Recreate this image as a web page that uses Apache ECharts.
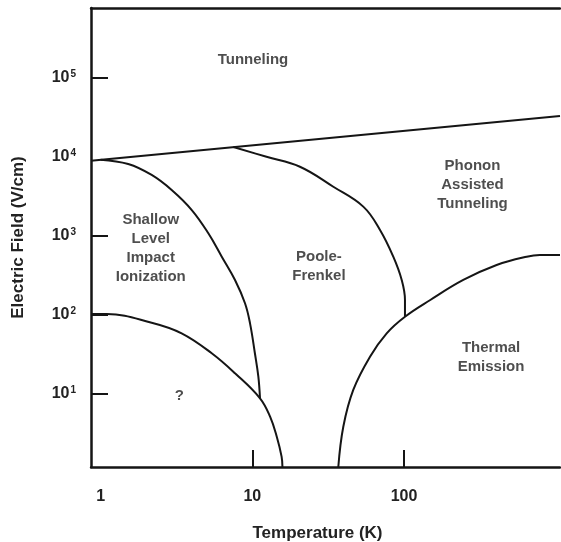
<!DOCTYPE html>
<html>
<head>
<meta charset="utf-8">
<script src="https://cdn.jsdelivr.net/npm/echarts@6/dist/echarts.min.js"></script>
<style>
html,body{margin:0;padding:0;background:#fff;}
#c{width:561px;height:542px;}
</style>
</head>
<body>
<div id="c"></div>
<script>
// Axis ranges (Temperature in K, Electric field in V/cm)
const tempRange = [0.864, 1068];
const fieldRange = [1.184, 765000];
const xTickValues = [10, 100];
const xLabelValues = [1, 10, 100];
const yTickValues = [10, 100, 1000, 100000];
const yLabelValues = [10, 100, 1000, 10000, 100000];

// Boundary curves: [temperature, field]
const tunnelingLine = [[0.864, 8930], [1068, 32800]];
const impactBoundary = [[1.0, 9200], [1.52, 8110], [2.17, 5890], [2.94, 3800], [3.99, 2120], [5.13, 1075], [6.29, 544], [7.69, 276], [8.95, 140], [9.66, 78], [10.4, 32.6], [10.96, 16.5], [11.24, 8.77]];
const unknownBoundary = [[0.864, 102], [1.097, 102], [2.17, 79.4], [3.42, 58.3], [5.40, 32.6], [7.69, 18.2], [11.24, 8.77], [13.1, 5.13], [14.5, 2.86], [15.6, 1.60], [15.8, 1.184]];
const pooleFrenkelBoundary = [[7.5, 13300], [12.4, 10000], [20.6, 7490], [34.2, 4180], [53.9, 2340], [69.5, 1185], [85.0, 544], [96.6, 276], [101.5, 154], [101.5, 94.6]];
const thermalBoundary = [[36.9, 1.184], [39.8, 3.83], [46.3, 11.2], [59.7, 29.5], [76.9, 58.3], [101.5, 94.6], [149, 154], [246, 276], [408, 427], [644, 544], [788, 571], [1068, 571]];

// Region labels and where they sit (temperature, field)
const regionNames = ['Tunneling', 'Shallow\nLevel\nImpact\nIonization', 'Poole-\nFrenkel', 'Phonon\nAssisted\nTunneling', 'Thermal\nEmission', '?'];
const regionAt = [[10.1, 168000], [2.14, 695], [27.5, 415], [283, 4396], [375, 29.2], [3.30, 9.38]];

const ink = '#151515';
const textInk = '#222';
const fontFam = '"Liberation Sans", Arial, Helvetica, sans-serif';

function lineSeries(data, smooth) {
  return {
    type: 'line', data: data, symbol: 'none', smooth: smooth,
    lineStyle: {color: ink, width: 2}, silent: true, z: 3
  };
}

const chart = echarts.init(document.getElementById('c'), null, {renderer: 'canvas'});
chart.setOption({
  animation: false,
  backgroundColor: '#fff',
  grid: {left: 91, top: 8, right: 1, bottom: 75, containLabel: false, outerBoundsMode: 'none'},
  xAxis: [{
    type: 'log', logBase: 10, min: tempRange[0], max: tempRange[1],
    name: 'Temperature (K)', nameLocation: 'middle', nameGap: 58,
    nameTextStyle: {fontFamily: fontFam, fontWeight: 'bold', fontSize: 17, color: textInk, padding: [0, 16, 0, 0]},
    axisLine: {show: true, lineStyle: {color: ink, width: 2.5}},
    axisTick: {show: true, inside: true, length: 17, customValues: xTickValues, lineStyle: {color: ink, width: 2}},
    axisLabel: {show: true, customValues: xLabelValues, margin: 22, fontFamily: fontFam, fontWeight: 'bold', fontSize: 16, color: textInk,
      formatter: v => String(Math.round(v))},
    splitLine: {show: false}, minorTick: {show: false}
  }, {
    type: 'log', logBase: 10, min: tempRange[0], max: tempRange[1], position: 'top',
    axisLine: {show: true, lineStyle: {color: ink, width: 2.5}},
    axisTick: {show: false}, axisLabel: {show: false}, splitLine: {show: false}
  }],
  yAxis: {
    type: 'log', logBase: 10, min: fieldRange[0], max: fieldRange[1],
    name: 'Electric Field (V/cm)', nameLocation: 'middle', nameGap: 64, nameRotate: 90,
    nameTextStyle: {fontFamily: fontFam, fontWeight: 'bold', fontSize: 17, color: textInk},
    axisLine: {show: true, lineStyle: {color: ink, width: 2.5}},
    axisTick: {show: true, inside: true, length: 17, customValues: yTickValues, lineStyle: {color: ink, width: 2}},
    axisLabel: {
      show: true, customValues: yLabelValues, margin: 15, color: textInk,
      formatter: v => '{b|10}{s|' + Math.round(Math.log10(v)) + '}',
      rich: {
        b: {fontFamily: fontFam, fontWeight: 'bold', fontSize: 16, color: textInk, lineHeight: 20},
        s: {fontFamily: fontFam, fontWeight: 'bold', fontSize: 10, color: textInk, lineHeight: 20, padding: [0, 0, 8, 1]}
      }
    },
    splitLine: {show: false}, minorTick: {show: false}
  },
  series: [
    lineSeries(tunnelingLine, false),
    lineSeries(impactBoundary, 0.4),
    lineSeries(unknownBoundary, 0.4),
    lineSeries(pooleFrenkelBoundary, 0.4),
    lineSeries(thermalBoundary, 0.4),
    {
      type: 'scatter', symbolSize: 1, itemStyle: {color: 'rgba(0,0,0,0)'}, silent: true, z: 4,
      data: regionAt.map((p, i) => ({value: p, name: regionNames[i]})),
      label: {
        show: true, position: 'inside', formatter: p => p.name,
        fontFamily: fontFam, fontWeight: 'bold', fontSize: 15, lineHeight: 19,
        color: textInk, align: 'center', verticalAlign: 'middle'
      }
    }
  ]
});
</script>
</body>
</html>
